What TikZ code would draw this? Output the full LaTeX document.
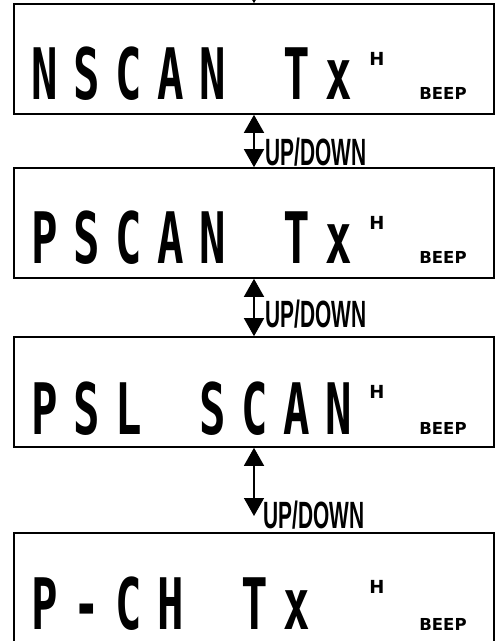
\documentclass[tikz,border=0pt]{standalone}
\usepackage{fontspec}
\usetikzlibrary{arrows.meta}
\newfontfamily\lcdfont[FakeStretch=0.62]{DejaVu Sans Mono}
\newfontfamily\tagfont[FakeStretch=0.55]{Liberation Sans}
\newfontfamily\beepfont{DejaVu Sans}
\tikzset{display/.style={rectangle, draw=black, line width=1.6pt, minimum width=480pt, minimum height=110pt, inner sep=0pt}}
\tikzset{lcd/.style={anchor=base, inner sep=0pt, font=\lcdfont\bfseries\fontsize{71}{71}\selectfont}}
\tikzset{hmark/.style={anchor=base, inner sep=0pt, font=\beepfont\bfseries\fontsize{18}{18}\selectfont}}
\tikzset{beep/.style={anchor=base, inner sep=0pt, font=\beepfont\bfseries\fontsize{16.5}{16.5}\selectfont}}
\tikzset{updown/.style={anchor=base west, inner sep=0pt, font=\tagfont\bfseries\fontsize{38}{38}\selectfont}}
\tikzset{arrow/.style={line width=1.4pt, -{Triangle[width=20pt, length=18pt]}}}
\tikzset{biarrow/.style={line width=1.4pt, {Triangle[width=20pt, length=18pt]}-{Triangle[width=20pt, length=18pt]}}}

\begin{document}
\begin{tikzpicture}[x=1pt, y=-1pt]

    \useasboundingbox (0,0) rectangle (496,641);
    \fill[white] (0,0) rectangle (496,641);
    \clip (0,0) rectangle (496,641);

    \node (disp1) [display] at (254, 59) {};
    \node (disp2) [display] at (254, 223) {};
    \node (disp3) [display] at (254, 392) {};
    \node (disp4) [display] at (254, 588) {};

    % display texts, one cell every 42pt
    \foreach \c/\col in {N/0, S/1, C/2, A/3, N/4, T/6, x/7}
        \node (a\col) [lcd] at ({45+42*\col}, 99) {\c};
    \foreach \c/\col in {P/0, S/1, C/2, A/3, N/4, T/6, x/7}
        \node (b\col) [lcd] at ({45+42*\col}, 263) {\c};
    \foreach \c/\col in {P/0, S/1, L/2, S/4, C/5, A/6, N/7}
        \node (c\col) [lcd] at ({45+42*\col}, 434) {\c};
    \foreach \c/\col in {P/0, -/1, C/2, H/3, T/5, x/6}
        \node (d\col) [lcd] at ({45+42*\col}, 629) {\c};

    \node (h1) [hmark] at (377, 65) {H};
    \node (h2) [hmark] at (377, 229) {H};
    \node (h3) [hmark] at (377, 398) {H};
    \node (h4) [hmark] at (377, 593) {H};

    \node (beep1) [beep] at (443, 99) {BEEP};
    \node (beep2) [beep] at (443, 263) {BEEP};
    \node (beep3) [beep] at (443, 434) {BEEP};
    \node (beep4) [beep] at (443, 630) {BEEP};

    % arrows
    \coordinate (in) at (254, -30);
    \coordinate (end34) at (254, 516);
    \draw [arrow] (in) -- (disp1.north);
    \draw [biarrow] (disp1.south) -- (disp2.north);
    \draw [biarrow] (disp2.south) -- (disp3.north);
    \draw [biarrow] (disp3.south) -- (end34);

    \node (ud12) [updown] at (265, 165) {UP/DOWN};
    \node (ud23) [updown] at (265, 327) {UP/DOWN};
    \node (ud34) [updown] at (263, 528) {UP/DOWN};

\end{tikzpicture}
\end{document}
